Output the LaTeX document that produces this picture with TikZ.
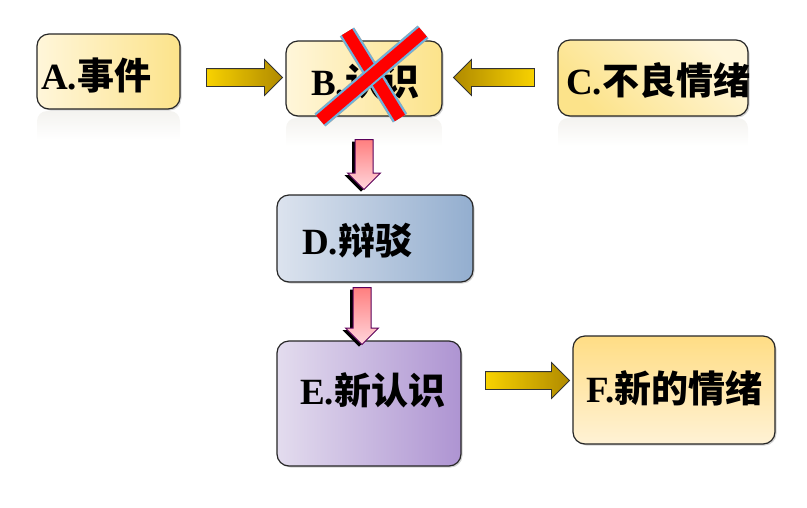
\documentclass[tikz,border=0pt]{standalone}
\usepackage{fontspec}
\setmainfont{Liberation Serif}
\newfontfamily\cjk{Noto Sans CJK SC}
\usetikzlibrary{shapes.arrows,shadows}
\definecolor{yboxL}{HTML}{FFF6DA}
\definecolor{yboxR}{HTML}{FCE38A}
\definecolor{dboxL}{HTML}{DCE3EE}
\definecolor{dboxR}{HTML}{93AECF}
\definecolor{eboxL}{HTML}{E3DCEE}
\definecolor{eboxR}{HTML}{AE94D2}
\definecolor{fboxT}{HTML}{FFDD85}
\definecolor{fboxB}{HTML}{FFF2D5}
\definecolor{arrBright}{HTML}{F8D200}
\definecolor{arrDark}{HTML}{B08A00}
\definecolor{pinkT}{HTML}{FF7F7F}
\definecolor{pinkB}{HTML}{FFD6DC}
\definecolor{pinkLine}{HTML}{5A005A}
\definecolor{xblue}{HTML}{6BB4E0}
\definecolor{xred}{HTML}{FF0000}
\newcommand{\lbl}[2]{\textbf{#1}{\cjk\bfseries #2}}
\tikzset{
  box/.style={draw=black!85, line width=1.2pt, rounded corners=12pt, inner sep=0pt,
    drop shadow={shadow xshift=1.5pt, shadow yshift=-1.5pt, opacity=0.35}},
  txt/.style={anchor=west, inner sep=0pt, font=\fontsize{37}{42}\selectfont},
  refl/.style={top color=yboxR!45!black!8, bottom color=white, draw=none},
  yarrow/.style={single arrow, draw=black!80, line width=0.8pt, inner sep=8.5pt,
    single arrow head extend=9pt, minimum width=35pt, single arrow tip angle=90},
  parrow/.style={single arrow, draw=pinkLine, line width=1pt, inner sep=8.5pt,
    shape border rotate=270, top color=pinkT, bottom color=pinkB,
    single arrow head extend=7.5pt, minimum width=32pt, single arrow tip angle=90,
    drop shadow={shadow xshift=-3pt, shadow yshift=-2pt, opacity=1, fill=black}},
}
\begin{document}
\begin{tikzpicture}[x=1pt,y=-1pt]
\useasboundingbox (0,0) rectangle (807,507);
% reflections
\shade[refl, rounded corners=10pt] (37,140) -- (37,111) -- (180,111) -- (180,140);
\shade[refl, rounded corners=10pt] (286,146) -- (286,118) -- (442,118) -- (442,146);
\shade[refl, rounded corners=10pt] (558,146) -- (558,118) -- (748,118) -- (748,146);
% boxes
\node[box, minimum width=143pt, minimum height=75pt, left color=yboxL, right color=yboxR] (A) at (108.5,71.5) {};
\node[box, minimum width=156pt, minimum height=75pt, left color=yboxL, right color=yboxR] (B) at (364,78.5) {};
\node[box, minimum width=190pt, minimum height=76pt, left color=yboxL, right color=yboxR, shading angle=-45] (C) at (653,78) {};
\node[box, minimum width=196pt, minimum height=87pt, left color=dboxL, right color=dboxR] (D) at (375,238.5) {};
\node[box, minimum width=184pt, minimum height=125pt, left color=eboxL, right color=eboxR] (E) at (369,403.5) {};
\node[box, minimum width=202pt, minimum height=108pt, top color=fboxT, bottom color=fboxB] (F) at (674,390) {};
% texts
\node[txt] (tA) at (41,75) {\lbl{A.}{事件}};
\node[txt] (tB) at (311,82) {\lbl{B.}{认识}};
\node[txt] (tC) at (566,80) {\lbl{C.}{不良情绪}};
\node[txt] (tD) at (302,241) {\lbl{D.}{辩驳}};
\node[txt] (tE) at (300,390) {\lbl{E.}{新认识}};
\node[txt] (tF) at (586,388) {\lbl{F.}{新的情绪}};
% block arrows
\node[yarrow, minimum height=76pt, left color=arrBright, right color=arrDark] (aAB) at (240,77.5) {};
\node[yarrow, minimum height=81pt, shape border rotate=180, left color=arrDark, right color=arrBright] (aCB) at (498.5,77.5) {};
\node[yarrow, minimum height=84pt, left color=arrBright, right color=arrDark] (aEF) at (523,380.5) {};
\node[parrow, minimum height=50pt] (aBD) at (364,160) {};
\node[parrow, minimum height=57pt] (aDE) at (362,311.5) {};
% cross over B
\coordinate (x1s) at (347,32);
\coordinate (x1e) at (400,118);
\coordinate (x2s) at (423,32);
\coordinate (x2e) at (320,120);
\draw[line width=17pt, black!35, shift={(3pt,3pt)}] (x1s) -- (x1e) (x2s) -- (x2e);
\draw[line width=16pt, xblue] (x1s) -- (x1e);
\draw[line width=12pt, xred] (x1s) -- (x1e);
\draw[line width=16pt, xblue] (x2s) -- (x2e);
\draw[line width=12pt, xred] (x2s) -- (x2e);
\end{tikzpicture}
\end{document}
